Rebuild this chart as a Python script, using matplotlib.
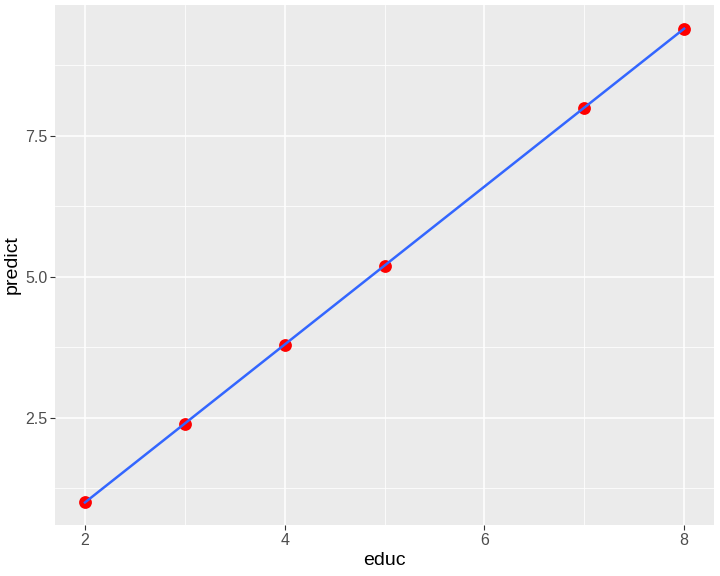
import numpy as np
import matplotlib
matplotlib.use("Agg")
import matplotlib.pyplot as plt
from matplotlib.ticker import FixedLocator

plt.rcParams["font.family"] = ["Liberation Sans", "DejaVu Sans"]

educ = [2, 3, 4, 5, 7, 8]
predict = [1.0, 2.4, 3.8, 5.2, 8.0, 9.4]
x_ticks = [2, 4, 6, 8]
y_ticks = [2.5, 5.0, 7.5]
y_tick_labels = ["2.5", "5.0", "7.5"]

fig = plt.figure(figsize=(7.2, 5.76), dpi=100)
ax = fig.add_axes([0.0764, 0.0885, 0.9153, 0.9028])
ax.set_facecolor("#EBEBEB")
for s in ax.spines.values():
    s.set_visible(False)

ax.set_xlim(1.70, 8.30)
ax.set_ylim(0.60, 9.82)
ax.xaxis.set_major_locator(FixedLocator(x_ticks))
ax.yaxis.set_major_locator(FixedLocator(y_ticks))
ax.set_yticklabels(y_tick_labels)
ax.xaxis.set_minor_locator(FixedLocator([3, 5, 7]))
ax.yaxis.set_minor_locator(FixedLocator([1.25, 3.75, 6.25, 8.75]))
ax.grid(which="major", color="white", linewidth=1.1)
ax.grid(which="minor", color="white", linewidth=0.55)
ax.set_axisbelow(True)
ax.tick_params(which="major", length=3.5, width=0.8, color="#333333",
               labelcolor="#4D4D4D", labelsize=11.5, pad=2)
ax.tick_params(which="minor", length=0)

ax.scatter(educ, predict, s=85, color="red", zorder=3, linewidths=0)
coef = np.polyfit(educ, predict, 1)
xs = np.array([min(educ), max(educ)])
ax.plot(xs, np.polyval(coef, xs), color="#3366FF", linewidth=1.8, zorder=4)

ax.set_xlabel("educ", fontsize=14, color="black", labelpad=3)
ax.set_ylabel("predict", fontsize=14, color="black", labelpad=3)

fig.savefig("out.png", dpi=100)
